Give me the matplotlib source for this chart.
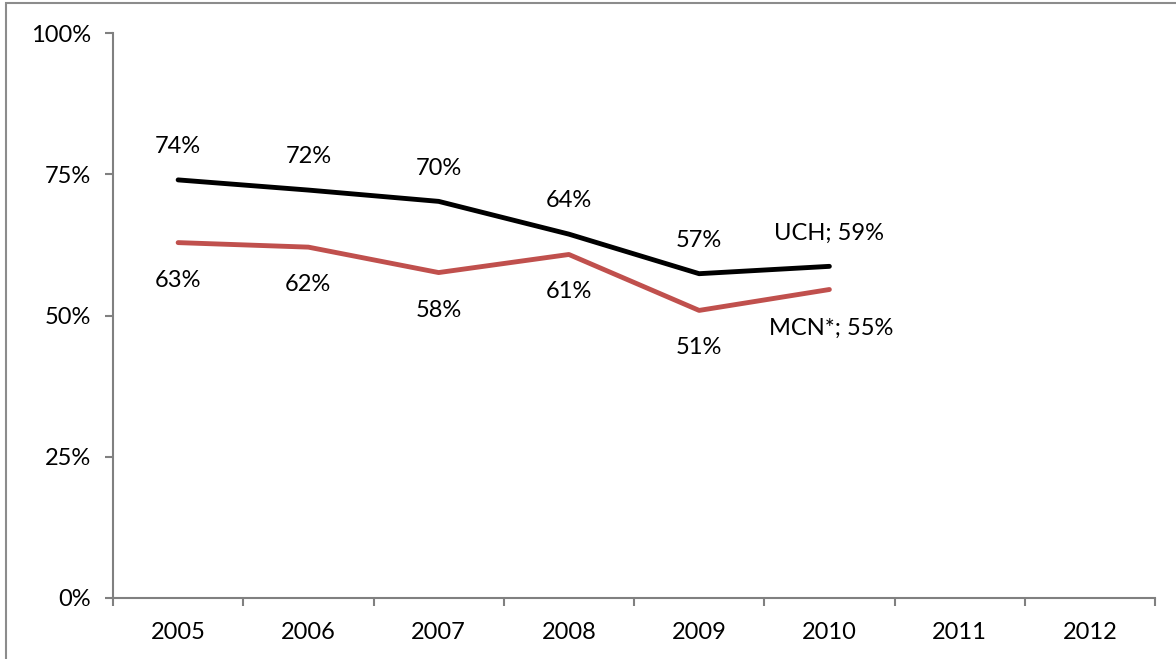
import matplotlib.pyplot as plt
from matplotlib.patches import Rectangle

years = ["2005", "2006", "2007", "2008", "2009", "2010", "2011", "2012"]
uch = [74.0, 72.2, 70.2, 64.4, 57.4, 58.7]
mcn = [62.9, 62.1, 57.6, 60.8, 50.9, 54.6]
y_ticks = [0, 25, 50, 75, 100]

plt.rcParams['font.family'] = ['Lato', 'DejaVu Sans']

fig = plt.figure(figsize=(11.76, 6.59), dpi=100)
ax = fig.add_axes([113 / 1176, 1 - 598 / 659, (1155 - 113) / 1176, (598 - 33) / 659])

# outer chart frame (cut off at right and bottom)
fig.patches.append(Rectangle((6 / 1176, -0.1), 1.2, 1 - 3 / 659 + 0.1, transform=fig.transFigure,
                             fill=False, edgecolor="#8c8c8c", linewidth=1.5))

x_uch = range(len(uch))
x_mcn = range(len(mcn))
ax.plot(x_uch, uch, color="black", linewidth=3.5, solid_capstyle="round")
ax.plot(x_mcn, mcn, color="#C0504D", linewidth=3.5, solid_capstyle="round")

fs = 17
for i, v in enumerate(uch):
    if i == len(uch) - 1:
        ax.annotate(f"UCH; {v:.0f}%", (i, v), xytext=(0, 24), textcoords="offset points",
                    ha="center", va="center", fontsize=fs)
    else:
        ax.annotate(f"{v:.0f}%", (i, v), xytext=(0, 24), textcoords="offset points",
                    ha="center", va="center", fontsize=fs)
for i, v in enumerate(mcn):
    if i == len(mcn) - 1:
        ax.annotate(f"MCN*; {v:.0f}%", (i, v), xytext=(1, -28), textcoords="offset points",
                    ha="center", va="center", fontsize=fs)
    else:
        ax.annotate(f"{v:.0f}%", (i, v), xytext=(0, -27), textcoords="offset points",
                    ha="center", va="center", fontsize=fs)

ax.set_xlim(-0.5, len(years) - 0.5)
ax.set_ylim(0, 100)
ax.set_xticks(range(len(years)))
ax.set_xticklabels(years, fontsize=fs)
ax.set_xticks([i - 0.5 for i in range(len(years) + 1)], minor=True)
ax.tick_params(axis="x", which="major", length=0, pad=17)
ax.tick_params(axis="x", which="minor", length=6, color="#808080", width=1.5)
ax.set_yticks(y_ticks)
ax.set_yticklabels([f"{t}%" for t in y_ticks], fontsize=fs)
ax.tick_params(axis="y", length=6, color="#808080", width=1.5, pad=10)

for s in ["top", "right"]:
    ax.spines[s].set_visible(False)
for s in ["left", "bottom"]:
    ax.spines[s].set_color("#808080")
    ax.spines[s].set_linewidth(1.5)

fig.savefig("out.png", dpi=100)
